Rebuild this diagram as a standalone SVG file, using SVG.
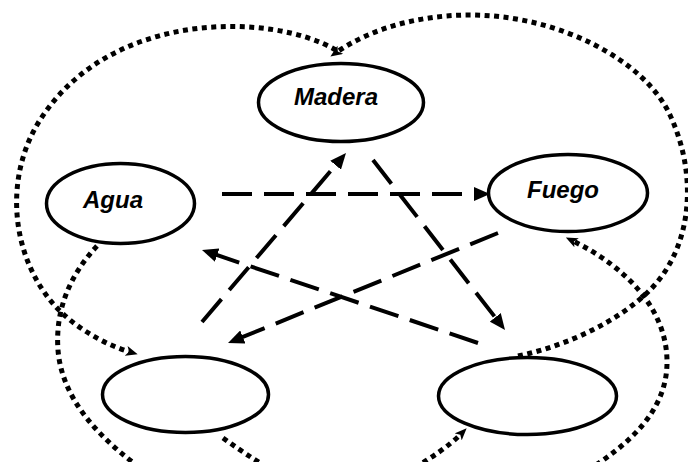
<svg xmlns="http://www.w3.org/2000/svg" width="688" height="462" viewBox="0 0 688 462">
<style>
.node{fill:#fff;stroke:#000;stroke-width:3.5}
.lbl{font-family:"Liberation Sans",Arial,sans-serif;font-weight:bold;font-style:italic;font-size:24px;fill:#000;text-anchor:middle}
.dash{fill:none;stroke:#000;stroke-width:4;stroke-dasharray:30 12;marker-end:url(#ah)}
.dot{fill:none;stroke:#000;stroke-width:5;stroke-dasharray:5 4.5;marker-end:url(#dh)}
</style>
<defs>
<marker id="ah" viewBox="0 0 16 14" refX="6" refY="7" markerWidth="16" markerHeight="14" markerUnits="userSpaceOnUse" orient="auto">
<path d="M0,0 L16,7 L0,14 z" fill="#000"/>
</marker>
<marker id="dh" viewBox="0 0 12 10" refX="4" refY="5" markerWidth="12" markerHeight="10" markerUnits="userSpaceOnUse" orient="auto">
<path d="M0,0 L12,5 L0,10 L3,5 z" fill="#000"/>
</marker>
</defs>
<rect width="688" height="462" fill="#fff"/>
<g id="connectors">
<path class="dot" d="M336,50 C270,12 110,10 40,120 C5,175 10,250 50,300 C70,325 103,344 130,352"/>
<path class="dot" d="M518,356 C570,345 620,320 650,290 C690,250 700,180 670,115 C645,61 560,15 470,15 C420,15 372,28 337,52"/>
<path class="dot" d="M97,246 C70,275 55,310 58,350 C62,400 100,440 150,475"/>
<path class="dot" d="M580,475 C630,445 668,410 667,360 C666,310 628,268 573,241"/>
<path class="dot" d="M223,438 C265,468 300,490 345,490 C385,490 440,455 461,434"/>
<path class="dash" d="M222,194 L480,194"/>
<path class="dash" d="M202,322 L339.5,160.6"/>
<path class="dash" d="M373,160 L498.9,322.1"/>
<path class="dash" d="M498,233 L237.3,339.2"/>
<path class="dash" d="M478,343 L211.5,253.2"/>
</g>
<g id="madera"><ellipse class="node" cx="341" cy="102.5" rx="82.5" ry="39"/><text class="lbl" x="336" y="105">Madera</text></g>
<g id="agua"><ellipse class="node" cx="120.5" cy="203.5" rx="74" ry="40"/><text class="lbl" x="113" y="208">Agua</text></g>
<g id="fuego"><ellipse class="node" cx="568" cy="193" rx="79.5" ry="38.5"/><text class="lbl" x="563" y="198">Fuego</text></g>
<g id="metal"><ellipse class="node" cx="185.5" cy="394.5" rx="83" ry="38"/></g>
<g id="tierra"><ellipse class="node" cx="527.5" cy="396" rx="89" ry="38.5"/></g>
</svg>
